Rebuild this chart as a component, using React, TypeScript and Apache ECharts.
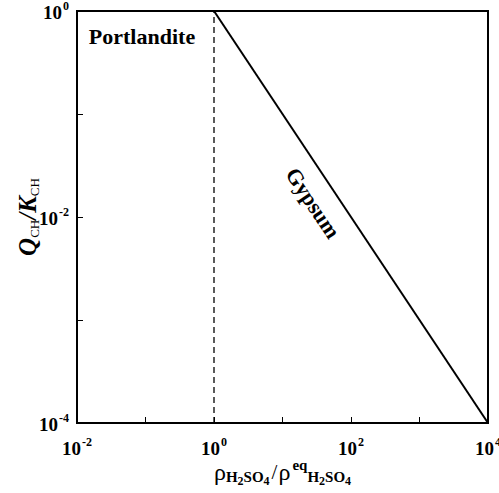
import React, { useEffect, useRef } from "react";
import * as echarts from "echarts";

const xRange = [0.01, 10000];
const yRange = [0.0001, 1];
const xLabelExps = [-2, 0, 2, 4];
const yLabelExps = [-4, -2, 0];
const gypsumX = [1, 10000];
const gypsumY = [1, 0.0001];
const boundaryX = [1, 1];
const boundaryY = [0.0001, 1];
const regionLabels = ["Portlandite", "Gypsum"];

const FONT = "Liberation Serif";

const fmt = (exps: number[]) => (v: number) => {
  const e = Math.round(Math.log10(v));
  return exps.includes(e) ? `{b|10}{s|${e}}` : "";
};

const tickRich = {
  b: { fontFamily: FONT, fontWeight: "bold", fontSize: 19, color: "#000", verticalAlign: "bottom", lineHeight: 22 },
  s: { fontFamily: FONT, fontWeight: "bold", fontSize: 12, color: "#000", verticalAlign: "top", lineHeight: 22, padding: [0, 0, 0, 1] },
};

export default function App() {
  const ref = useRef<HTMLDivElement>(null);
  useEffect(() => {
    const chart = echarts.init(ref.current!, null, { renderer: "svg" });
    const toPairs = (xs: number[], ys: number[]) => xs.map((x, i) => [x, ys[i]]);
    chart.setOption({
      animation: false,
      backgroundColor: "#fff",
      textStyle: { fontFamily: FONT },
      grid: {
        left: 77,
        right: 11,
        top: 11,
        bottom: 70,
        outerBoundsMode: "none",
        containLabel: false,
        show: true,
        borderColor: "#000",
        borderWidth: 2,
        backgroundColor: "transparent",
      },
      xAxis: {
        type: "log",
        logBase: 10,
        min: xRange[0],
        max: xRange[1],
        interval: 1,
        axisLine: { lineStyle: { color: "#000", width: 2 } },
        axisTick: { inside: true, length: 6, lineStyle: { color: "#000", width: 1 } },
        splitLine: { show: false },
        axisLabel: { formatter: fmt(xLabelExps), margin: 13, rich: tickRich },
        name:
          "{r|ρ}{sb|H}{s2|2}{sb|SO}{s2|4}{sl|/}{r|ρ}{sup|eq}{sb|H}{s2|2}{sb|SO}{s2|4}",
        nameLocation: "middle",
        nameGap: 34,
        nameMoveOverlap: false,
        nameTextStyle: {
          rich: {
            r: { fontFamily: FONT, fontSize: 24, color: "#000", verticalAlign: "middle", lineHeight: 30 },
            sl: { fontFamily: FONT, fontSize: 21, color: "#000", verticalAlign: "middle", lineHeight: 30, padding: [0, 1, 0, 2] },
            sb: { fontFamily: FONT, fontWeight: "bold", fontSize: 15, color: "#000", verticalAlign: "bottom", lineHeight: 30, padding: [0, 0, 3, 0] },
            s2: { fontFamily: FONT, fontWeight: "bold", fontSize: 12, color: "#000", verticalAlign: "bottom", lineHeight: 30 },
            sup: { fontFamily: FONT, fontWeight: "bold", fontSize: 15, color: "#000", verticalAlign: "top", lineHeight: 30, padding: [0, 0, 0, 2] },
          },
        },
      },
      yAxis: {
        type: "log",
        logBase: 10,
        min: yRange[0],
        max: yRange[1],
        interval: 1,
        axisLine: { lineStyle: { color: "#000", width: 2 } },
        axisTick: { inside: true, length: 6, lineStyle: { color: "#000", width: 1 } },
        splitLine: { show: false },
        axisLabel: { formatter: fmt(yLabelExps), margin: 8, rich: tickRich },
        name: "{q|Q}{c|CH}{q|/K}{c|CH}",
        nameLocation: "middle",
        nameRotate: 90,
        nameGap: 36,
        nameMoveOverlap: false,
        nameTextStyle: {
          rich: {
            q: { fontFamily: FONT, fontWeight: "bold", fontStyle: "italic", fontSize: 25, color: "#000", verticalAlign: "middle", lineHeight: 28 },
            c: { fontFamily: FONT, fontSize: 13, color: "#000", verticalAlign: "bottom", lineHeight: 28 },
          },
        },
      },
      graphic: [
        {
          type: "text",
          x: 142,
          y: 36,
          style: {
            text: regionLabels[0],
            fontFamily: FONT,
            fontWeight: "bold",
            fontSize: 22,
            fill: "#000",
            align: "center",
            verticalAlign: "middle",
          },
        },
        {
          type: "text",
          x: 313,
          y: 203,
          rotation: -0.983,
          style: {
            text: regionLabels[1],
            fontFamily: FONT,
            fontWeight: "bold",
            fontSize: 22,
            fill: "#000",
            align: "center",
            verticalAlign: "middle",
          },
        },
      ],
      series: [
        {
          type: "line",
          data: toPairs(gypsumX, gypsumY),
          symbol: "none",
          lineStyle: { color: "#000", width: 2 },
        },
        {
          type: "line",
          data: toPairs(boundaryX, boundaryY),
          symbol: "none",
          lineStyle: { color: "#000", width: 1.3, type: [6, 4] },
        },
      ],
    });
    return () => chart.dispose();
  }, []);
  return <div ref={ref} style={{ width: 499, height: 493, position: "absolute", left: 0, top: 0 }} />;
}
